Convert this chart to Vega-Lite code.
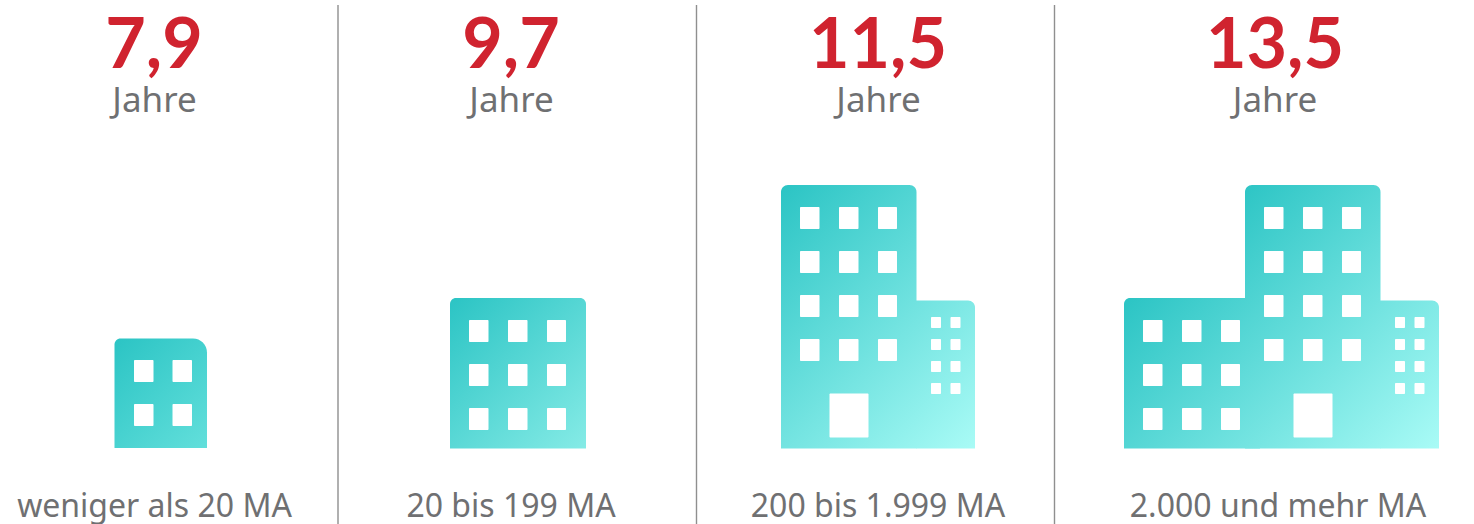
{"$schema":"https://vega.github.io/schema/vega-lite/v6.json","width":1474,"height":524,"padding":0,"autosize":{"type":"none"},"background":"white","view":{"stroke":null},
"config":{"axis":{"grid":false}},
"encoding":{"x":{"field":"x","type":"quantitative","scale":{"domain":[0,1474],"nice":false,"zero":false},"axis":null},"y":{"field":"y","type":"quantitative","scale":{"domain":[524,0],"nice":false,"zero":false},"axis":null}},
"layer":[
{"data":{"values":[{"x":338,"y":5,"y2":524},{"x":696.5,"y":5,"y2":524},{"x":1054.5,"y":5,"y2":524}]},"mark":{"type":"rule","color":"#8f8f8f","strokeWidth":1.4},"encoding":{"y2":{"field":"y2"}}},
{"data":{"values":[{"x":114.5,"x2":207,"y":338.5,"y2":448}]},"mark":{"type":"rect","cornerRadiusTopLeft":6,"cornerRadiusTopRight":14,"color":{"gradient":"linear","x1":0,"y1":0,"x2":0.909,"y2":1.076,"stops":[{"offset":0,"color":"#2bc4c4"},{"offset":1,"color":"#62dfdb"}]}},"encoding":{"x2":{"field":"x2"},"y2":{"field":"y2"}}},
{"data":{"values":[{"x":450,"x2":586,"y":298,"y2":448.5}]},"mark":{"type":"rect","cornerRadiusTopLeft":6,"cornerRadiusTopRight":6,"color":{"gradient":"linear","x1":0,"y1":0,"x2":0.947,"y2":1.048,"stops":[{"offset":0,"color":"#2bc4c4"},{"offset":1,"color":"#85ebe6"}]}},"encoding":{"x2":{"field":"x2"},"y2":{"field":"y2"}}},
{"data":{"values":[{"x":1124,"x2":1260,"y":298,"y2":448.5}]},"mark":{"type":"rect","cornerRadiusTopLeft":6,"color":{"gradient":"linear","x1":0,"y1":0,"x2":1.5369,"y2":1.7008,"stops":[{"offset":0,"color":"#2bc4c4"},{"offset":1,"color":"#a9fbf6"}]}},"encoding":{"x2":{"field":"x2"},"y2":{"field":"y2"}}},
{"data":{"values":[{"x":781,"x2":916.5,"y":185,"y2":448.5}]},"mark":{"type":"rect","cornerRadiusTopLeft":7,"cornerRadiusTopRight":7,"color":{"gradient":"linear","x1":0,"y1":0,"x2":0.706,"y2":1.373,"stops":[{"offset":0,"color":"#2bc4c4"},{"offset":1,"color":"#a9fbf6"}]}},"encoding":{"x2":{"field":"x2"},"y2":{"field":"y2"}}},
{"data":{"values":[{"x":916,"x2":975,"y":300.5,"y2":448.5}]},"mark":{"type":"rect","cornerRadiusTopRight":7,"color":{"gradient":"linear","x1":-0.5822,"y1":-1.4605,"x2":0.4811,"y2":1.2068,"stops":[{"offset":0,"color":"#2bc4c4"},{"offset":1,"color":"#a9fbf6"}]}},"encoding":{"x2":{"field":"x2"},"y2":{"field":"y2"}}},
{"data":{"values":[{"x":1245,"x2":1380.5,"y":185,"y2":448.5}]},"mark":{"type":"rect","cornerRadiusTopLeft":7,"cornerRadiusTopRight":7,"color":{"gradient":"linear","x1":-0.01235,"y1":-0.024,"x2":0.7054,"y2":1.3717,"stops":[{"offset":0,"color":"#2bc4c4"},{"offset":1,"color":"#a9fbf6"}]}},"encoding":{"x2":{"field":"x2"},"y2":{"field":"y2"}}},
{"data":{"values":[{"x":1380,"x2":1439,"y":300.5,"y2":448.5}]},"mark":{"type":"rect","cornerRadiusTopRight":7,"color":{"gradient":"linear","x1":-0.6008,"y1":-1.5071,"x2":0.4799,"y2":1.2039,"stops":[{"offset":0,"color":"#2bc4c4"},{"offset":1,"color":"#a9fbf6"}]}},"encoding":{"x2":{"field":"x2"},"y2":{"field":"y2"}}},
{"data":{"values":[
{"x":134,"x2":153.5,"y":360,"y2":382},{"x":172.5,"x2":192,"y":360,"y2":382},{"x":134,"x2":153.5,"y":404,"y2":426},{"x":172.5,"x2":192,"y":404,"y2":426},
{"x":469,"x2":488.5,"y":320,"y2":342},{"x":508,"x2":527.5,"y":320,"y2":342},{"x":547,"x2":566,"y":320,"y2":342},
{"x":469,"x2":488.5,"y":364,"y2":386},{"x":508,"x2":527.5,"y":364,"y2":386},{"x":547,"x2":566,"y":364,"y2":386},
{"x":469,"x2":488.5,"y":408,"y2":430},{"x":508,"x2":527.5,"y":408,"y2":430},{"x":547,"x2":566,"y":408,"y2":430},
{"x":1143,"x2":1162.5,"y":320,"y2":342},{"x":1182,"x2":1201.5,"y":320,"y2":342},{"x":1221,"x2":1240,"y":320,"y2":342},
{"x":1143,"x2":1162.5,"y":364,"y2":386},{"x":1182,"x2":1201.5,"y":364,"y2":386},{"x":1221,"x2":1240,"y":364,"y2":386},
{"x":1143,"x2":1162.5,"y":408,"y2":430},{"x":1182,"x2":1201.5,"y":408,"y2":430},{"x":1221,"x2":1240,"y":408,"y2":430},
{"x":800,"x2":819.5,"y":207,"y2":229},{"x":839,"x2":858.5,"y":207,"y2":229},{"x":878,"x2":897,"y":207,"y2":229},
{"x":800,"x2":819.5,"y":251,"y2":273},{"x":839,"x2":858.5,"y":251,"y2":273},{"x":878,"x2":897,"y":251,"y2":273},
{"x":800,"x2":819.5,"y":295,"y2":317},{"x":839,"x2":858.5,"y":295,"y2":317},{"x":878,"x2":897,"y":295,"y2":317},
{"x":800,"x2":819.5,"y":339,"y2":361},{"x":839,"x2":858.5,"y":339,"y2":361},{"x":878,"x2":897,"y":339,"y2":361},
{"x":829.5,"x2":868.5,"y":393.5,"y2":437.5},
{"x":931,"x2":941,"y":317,"y2":328},{"x":950.5,"x2":960.5,"y":317,"y2":328},
{"x":931,"x2":941,"y":339,"y2":350},{"x":950.5,"x2":960.5,"y":339,"y2":350},
{"x":931,"x2":941,"y":361,"y2":372},{"x":950.5,"x2":960.5,"y":361,"y2":372},
{"x":931,"x2":941,"y":383,"y2":394},{"x":950.5,"x2":960.5,"y":383,"y2":394},
{"x":1264,"x2":1283.5,"y":207,"y2":229},{"x":1303,"x2":1322.5,"y":207,"y2":229},{"x":1342,"x2":1361,"y":207,"y2":229},
{"x":1264,"x2":1283.5,"y":251,"y2":273},{"x":1303,"x2":1322.5,"y":251,"y2":273},{"x":1342,"x2":1361,"y":251,"y2":273},
{"x":1264,"x2":1283.5,"y":295,"y2":317},{"x":1303,"x2":1322.5,"y":295,"y2":317},{"x":1342,"x2":1361,"y":295,"y2":317},
{"x":1264,"x2":1283.5,"y":339,"y2":361},{"x":1303,"x2":1322.5,"y":339,"y2":361},{"x":1342,"x2":1361,"y":339,"y2":361},
{"x":1293.5,"x2":1332.5,"y":393.5,"y2":437.5},
{"x":1395,"x2":1405,"y":317,"y2":328},{"x":1414.5,"x2":1424.5,"y":317,"y2":328},
{"x":1395,"x2":1405,"y":339,"y2":350},{"x":1414.5,"x2":1424.5,"y":339,"y2":350},
{"x":1395,"x2":1405,"y":361,"y2":372},{"x":1414.5,"x2":1424.5,"y":361,"y2":372},
{"x":1395,"x2":1405,"y":383,"y2":394},{"x":1414.5,"x2":1424.5,"y":383,"y2":394}
]},"mark":{"type":"rect","color":"#ffffff","cornerRadius":1},"encoding":{"x2":{"field":"x2"},"y2":{"field":"y2"}}},
{"data":{"values":[{"x":154,"y":68,"t":"7,9"},{"x":511,"y":68,"t":"9,7"},{"x":878,"y":68,"t":"11,5"},{"x":1275,"y":68,"t":"13,5"}]},"mark":{"type":"text","font":"Lato","fontSize":70,"fontWeight":"bold","color":"#d0232f","align":"center","baseline":"alphabetic"},"encoding":{"text":{"field":"t"}}},
{"data":{"values":[{"x":154.5,"y":112,"t":"Jahre"},{"x":511.5,"y":112,"t":"Jahre"},{"x":878.5,"y":112,"t":"Jahre"},{"x":1275,"y":112,"t":"Jahre"}]},"mark":{"type":"text","font":"Noto Sans","fontSize":35,"color":"#6f7072","align":"center","baseline":"alphabetic"},"encoding":{"text":{"field":"t"}}},
{"data":{"values":[{"x":154.5,"y":517,"t":"weniger als 20 MA"},{"x":511,"y":517,"t":"20 bis 199 MA"},{"x":878,"y":517,"t":"200 bis 1.999 MA"},{"x":1278,"y":517,"t":"2.000 und mehr MA"}]},"mark":{"type":"text","font":"Noto Sans","fontSize":32,"color":"#6f7072","align":"center","baseline":"alphabetic"},"encoding":{"text":{"field":"t"}}}
]}
